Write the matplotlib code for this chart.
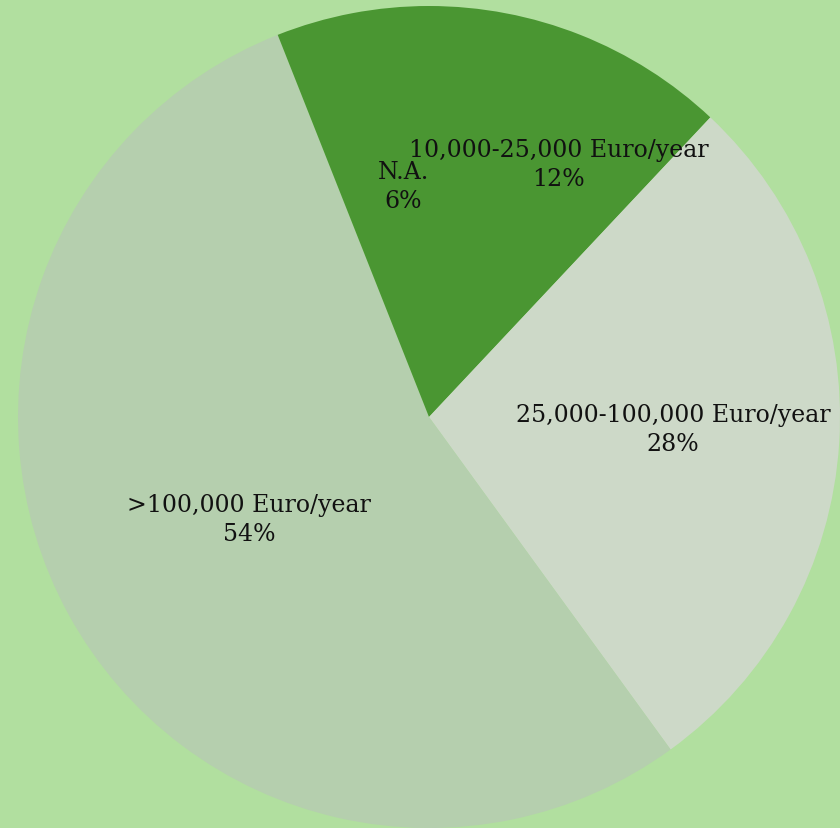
import matplotlib.pyplot as plt

labels = ["10,000-25,000 Euro/year", "25,000-100,000 Euro/year", ">100,000 Euro/year", "N.A."]
shares = [12, 28, 54, 6]
colors = ["#4a9632", "#cdd9c8", "#b5cfae", "#4a9632"]

# label centres (in pie radius units)
label_pos = [(0.316, 0.616), (0.594, -0.029), (-0.438, -0.248), (-0.063, 0.562)]

bg = "#b1df9f"
fig = plt.figure(figsize=(8.4, 8.29), dpi=100, facecolor=bg)
ax = fig.add_axes([18 / 840, 0, 822 / 840, 822 / 829])
ax.set_facecolor(bg)

ax.pie(shares, colors=colors, startangle=90, counterclock=False, radius=1,
       wedgeprops=dict(linewidth=0))

for lab, val, (x, y) in zip(labels, shares, label_pos):
    ax.text(x, y, f"{lab}\n{val}%", ha="center", va="center", fontsize=17,
            family="DejaVu Serif", color="#111111", linespacing=1.35)

ax.set_xlim(-1, 1)
ax.set_ylim(-1, 1)
ax.set_aspect("auto")
ax.axis("off")

fig.savefig("out.png", dpi=100, facecolor=bg)
